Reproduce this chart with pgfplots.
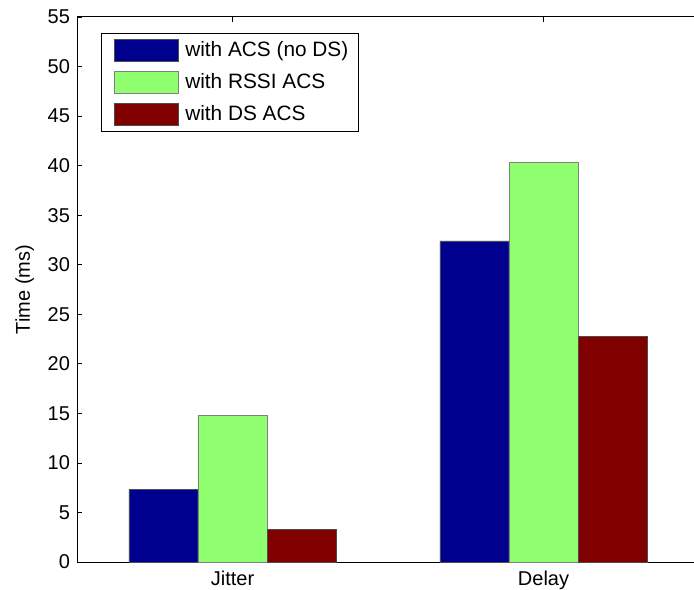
\documentclass[border=0pt]{standalone}
\usepackage{fontspec}
\setmainfont{Liberation Sans}
\usepackage{pgfplots}
\pgfplotsset{compat=1.18}
\definecolor{cblue}{RGB}{0,0,143}
\definecolor{cgreen}{RGB}{143,255,112}
\definecolor{cred}{RGB}{128,0,0}
\begin{document}
\begin{tikzpicture}
\clip (-38.5pt,-13.5pt) rectangle (308.5pt,281pt);
\begin{axis}[
  at={(0,0)}, anchor=south west,
  scale only axis, width=311pt, height=272.5pt,
  xmin=0.5, xmax=2.5, ymin=0, ymax=55,
  xtick={1,2}, xticklabels={Jitter,Delay},
  ytick={0,5,...,55},
  tick align=inside, major tick length=2.5pt,
  tick style={black, line width=0.4pt},
  axis line style={black, line width=0.5pt},
  font=\fontsize{10}{12}\selectfont,
  /pgf/number format/assume math mode=true,
  ticklabel style={font=\fontsize{10}{12}\selectfont},
  ylabel={Time (ms)},
  y label style={at={(axis description cs:-0.084,0.5)}, anchor=center},
  x tick label style={yshift=-1pt},
  legend style={at={(axis description cs:0.0386,0.9706)}, anchor=north west,
    draw=black, line width=0.5pt, inner xsep=3pt, inner ysep=2pt,
    font=\fontsize{10.4}{12}\selectfont, row sep=3pt, column sep=1.5pt,
    legend cell align=left},
  legend image code/.code={\path (0pt,0pt); \draw[#1] (3pt,-5.5pt) rectangle (35pt,5.5pt);},
]
\addplot[ybar, bar width=0.222, bar shift=-0.222, fill=cblue, draw=black!70, line width=0.4pt]
  coordinates {(1,7.33) (2,32.4)};
\addplot[ybar, bar width=0.222, bar shift=0, fill=cgreen, draw=black!50, line width=0.4pt]
  coordinates {(1,14.76) (2,40.3)};
\addplot[ybar, bar width=0.222, bar shift=0.222, fill=cred, draw=black!70, line width=0.4pt]
  coordinates {(1,3.3) (2,22.8)};
\legend{with ACS (no DS), with RSSI ACS, with DS ACS}
\end{axis}
\end{tikzpicture}
\end{document}
